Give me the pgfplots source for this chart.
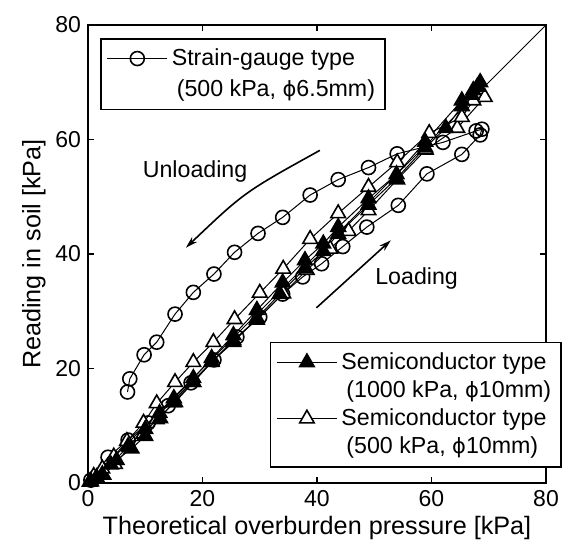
\documentclass[border=0pt]{standalone}
\usepackage{fontspec}
\setmainfont{Liberation Sans}
\newfontfamily\dejavu{DejaVu Sans}
\usepackage{pgfplots}
\pgfplotsset{compat=1.18}
\usetikzlibrary{arrows.meta}
\newcommand{\phisym}{{\dejavu\fontsize{10.5}{12}\selectfont ϕ}}

\pgfplotstableread{
x y
0.5 0.5
3.5 4.5
7 7.5
10.5 10.5
14 13.5
18 17.5
22 21.5
26 25.5
30 29
34 33
37.5 36
40.8 38.3
44.5 41.3
48.7 44.7
54.2 48.5
59.2 54.0
65.3 57.4
68.5 60.8
68.8 61.8
67.8 61.5
62 59.5
54.0 57.5
49.0 55.1
43.7 53.0
38.8 50.3
34.0 46.4
29.7 43.6
25.6 40.3
22.0 36.5
18.4 33.3
15.2 29.5
12.0 24.6
9.8 22.4
7.3 18.2
6.9 15.9
}\strain

\pgfplotstableread{
x y
0.5 0.3
2.7 1.4
4.7 3.3
7.3 6.3
9.7 8.6
12.0 11.1
15.2 14.1
18.4 17.6
21.6 21.1
25.4 24.9
29.5 28.5
34.1 33.1
38.2 37.2
42.3 40.9
45.5 44.0
49.0 47.6
54.0 53.0
59.0 58.2
64.5 62.0
69.3 67.4
67.3 66.8
65.3 63.9
59.6 61.1
54.0 56.0
49.0 51.7
43.7 47.1
38.8 42.6
34.1 37.4
30.0 33.2
25.6 28.6
21.9 24.6
18.4 21.1
15.2 17.6
12.0 13.9
9.7 10.5
6.8 7.3
4.5 4.6
2.5 2.5
1.0 1.2
}\semifive

\pgfplotstableread{
x y
0.5 0.3
2.5 1.5
5.0 4.0
7.6 6.0
10.0 8.2
12.6 11.3
14.9 14.1
18.4 17.6
21.6 21.2
25.4 24.6
29.5 28.8
33.5 33.0
37.9 37.5
41.1 40.5
43.7 43.5
49.0 48.6
53.9 53.2
58.9 58.6
62.5 62.0
65.3 65.8
67.3 68.6
68.5 70.0
68.0 69.2
67.0 67.8
65.3 66.8
58.9 59.6
53.9 53.9
49.0 49.7
43.7 44.7
41.1 41.8
37.9 38.9
34.0 35.0
29.5 30.2
25.4 25.8
21.6 21.8
18.4 18.3
15.0 14.8
12.5 12.2
10.0 9.4
7.0 6.4
4.0 3.2
1.5 1.0
0.3 0.2
}\semithou

\begin{document}
\begin{tikzpicture}
\pgfplotsset{
  common/.style={
    width=229pt, height=229pt, scale only axis,
    xmin=0, xmax=80, ymin=0, ymax=80,
  },
  legimg/.style={
    legend image code/.code={
      \draw[mark repeat=2,mark phase=2] plot coordinates {(0pt,#1) (15pt,#1) (30pt,#1)};
    }
  },
}
\begin{axis}[
  common,
  name=main,
  axis line style={line width=1pt},
  xtick={0,20,...,80}, ytick={0,20,...,80},
  tick align=inside, major tick length=3pt,
  tick style={line width=0.8pt, black},
  xtick pos=both, ytick pos=both,
  /pgf/number format/assume math mode=true,
  tick label style={font=\fontsize{11.5}{13}\selectfont},
  xlabel={Theoretical overburden pressure [kPa]},
  ylabel={Reading in soil [kPa]},
  label style={font=\fontsize{12.6}{15}\selectfont},
  xlabel style={yshift=2pt},
  ylabel style={yshift=-2pt},
  legimg=7.8pt,
  legend style={at={(0.026,0.972)}, anchor=north west, draw=black, line width=0.9pt,
    font=\fontsize{11.6}{15.5}\selectfont, cells={anchor=west, align=left},
    inner xsep=3pt, inner ysep=3pt},
]
\addplot[black, line width=0.5pt, forget plot] coordinates {(0,0) (80,80)};
\addplot[black, line width=0.5pt, mark=o, mark size=3.5pt,
  mark options={fill=white, line width=0.8pt, solid}] table[x=x,y=y] {\strain};
\addlegendentry{Strain-gauge type\\\hspace{2.5pt}(500 kPa, \phisym6.5mm)}
\addplot[black, line width=0.5pt, mark=triangle*, mark size=4.2pt,
  mark options={fill=white, line width=0.8pt, solid}, forget plot] table[x=x,y=y] {\semifive};
\addplot[black, line width=0.5pt, mark=triangle*, mark size=4.2pt,
  mark options={fill=black, line width=0.8pt, solid}, forget plot] table[x=x,y=y] {\semithou};
\node[font=\fontsize{11.6}{14}\selectfont] at (axis cs:18.7,54.4) {Unloading};
\node[font=\fontsize{11.6}{14}\selectfont] at (axis cs:57.4,35.7) {Loading};
\draw[line width=0.8pt, -{Stealth[length=6pt,width=3.5pt]}]
  (axis cs:40.5,58.1) .. controls (axis cs:27.3,50.8) .. (axis cs:17.1,41.1);
\draw[line width=0.8pt, -{Stealth[length=6pt,width=3.5pt]}]
  (axis cs:39.9,30.6) -- (axis cs:52.9,42.4);
\end{axis}
\begin{axis}[
  common,
  at={(main.south west)}, anchor=south west,
  hide axis,
  legimg=7.1pt,
  legend style={at={(1.035,0.033)}, anchor=south east, draw=black, line width=0.9pt,
    font=\fontsize{11.6}{14.2}\selectfont, cells={anchor=west, align=left},
    inner xsep=3pt, inner ysep=3pt},
]
\addlegendimage{black, line width=0.5pt, mark=triangle*, mark size=4.2pt,
  mark options={fill=black, line width=0.8pt, solid}}
\addlegendentry{Semiconductor type\\\hspace{2.5pt}(1000 kPa, \phisym10mm)}
\addlegendimage{black, line width=0.5pt, mark=triangle*, mark size=4.2pt,
  mark options={fill=white, line width=0.8pt, solid}}
\addlegendentry{Semiconductor type\\\hspace{2.5pt}(500 kPa, \phisym10mm)}
\end{axis}
\pgfresetboundingbox
\path[use as bounding box] ([shift={(-44pt,-33pt)}]main.south west) rectangle ([shift={(8.5pt,12.5pt)}]main.north east);
\end{tikzpicture}
\end{document}
